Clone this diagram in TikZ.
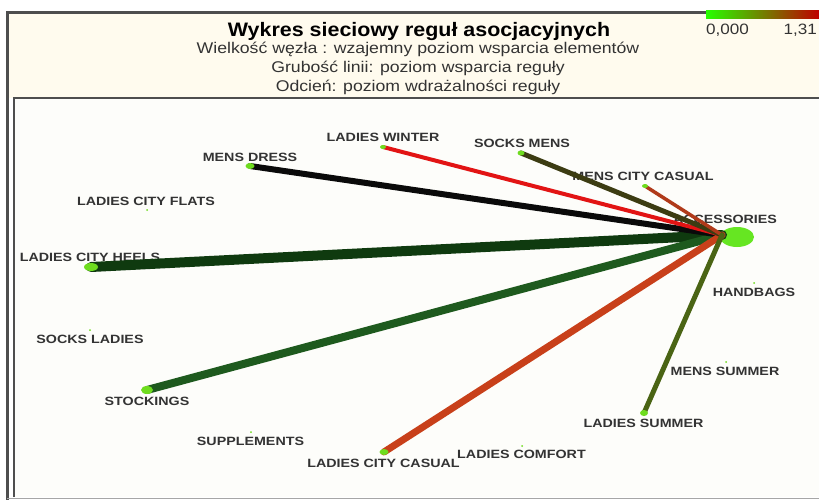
\documentclass[tikz,border=0pt]{standalone}
\usepackage{fontspec}
\setmainfont{Liberation Sans}
\newfontfamily\lblfont[FakeStretch=1.19]{Liberation Sans}
\newfontfamily\subfont[FakeStretch=1.14]{Liberation Sans}
\newfontfamily\titlefont[FakeStretch=1.1]{Liberation Sans}
\definecolor{cream}{HTML}{FFFBEE}
\definecolor{plotbg}{HTML}{FDFDFA}
\definecolor{framegray}{HTML}{4E4E4E}
\definecolor{dotgreen}{HTML}{6EDC1E}
\definecolor{hubgreen}{HTML}{66E622}
\definecolor{eheels}{HTML}{0F3A0F}
\definecolor{estock}{HTML}{1E5A1E}
\definecolor{edress}{HTML}{0A0A0A}
\definecolor{ewinter}{HTML}{E21414}
\definecolor{esocks}{HTML}{3C3C12}
\definecolor{emcc}{HTML}{B03A1A}
\definecolor{elcc}{HTML}{C8401A}
\definecolor{esummer}{HTML}{4A6414}
\definecolor{lbltext}{HTML}{333333}
\begin{document}
\begin{tikzpicture}[x=1pt,y=-1pt,
  lbl/.style={font=\lblfont\fontsize{12}{12}\selectfont\bfseries, text=lbltext, inner sep=0pt},
  subt/.style={font=\subfont\fontsize{15.5}{15.5}\selectfont, text=lbltext, anchor=base, inner sep=0pt},
  legt/.style={font=\subfont\fontsize{15}{15}\selectfont, text=lbltext, inner sep=0pt},
  edge/.style={line cap=round},
  dot/.style={fill=dotgreen, draw=none}]
\useasboundingbox (0,0) rectangle (819,500);
% backgrounds and frames
\fill[white] (0,0) rectangle (819,500);
\fill[cream] (7,13) rectangle (819,98);
\fill[plotbg] (14,98) rectangle (819,497);
\draw[framegray, line width=3pt] (7.5,500) -- (7.5,12.5) -- (819,12.5);
\draw[framegray, line width=2pt] (14,497) -- (14,98) -- (819,98);
\draw[gray!70, line width=1pt] (7,498.5) -- (819,498.5);
% legend
\shade[left color=green!80!lime, middle color=olive!90!green, right color=red!75!black] (706,11) rectangle (819,19);
\node[legt, anchor=base west] (leg0) at (706,35) {0,000};
\node[legt, anchor=base east] (leg1) at (817,35) {1,31};
% title
\node[font=\titlefont\fontsize{19.5}{19.5}\selectfont\bfseries, text=black, anchor=base, inner sep=0pt] (title) at (419,36.5) {Wykres sieciowy reguł asocjacyjnych};
\node[subt] (sub1) at (418,53.5) {Wielkość węzła : wzajemny poziom wsparcia elementów};
\node[subt] (sub2) at (418,72.5) {Grubość linii: poziom wsparcia reguły};
\node[subt] (sub3) at (418,91.5) {Odcień: poziom wdrażalności reguły};
% labels
\node[lbl] (tACC) at (725,219.5) {ACCESSORIES};
\node[lbl] (tMD) at (250,157.5) {MENS DRESS};
\node[lbl] (tLCF) at (146,201.5) {LADIES CITY FLATS};
\node[lbl] (tLW) at (383,137.5) {LADIES WINTER};
\node[lbl] (tSM) at (522,143) {SOCKS MENS};
\node[lbl] (tMCC) at (643,176.5) {MENS CITY CASUAL};
\node[lbl] (tLCH) at (90,257.5) {LADIES CITY HEELS};
\node[lbl] (tSL) at (90,339) {SOCKS LADIES};
\node[lbl] (tST) at (147,401) {STOCKINGS};
\node[lbl] (tSUP) at (250.5,441.5) {SUPPLEMENTS};
\node[lbl] (tLCC) at (383.5,463) {LADIES CITY CASUAL};
\node[lbl] (tLCO) at (521.5,454) {LADIES COMFORT};
\node[lbl] (tLS) at (643.5,423.5) {LADIES SUMMER};
\node[lbl] (tMS) at (725,371) {MENS SUMMER};
\node[lbl] (tHB) at (754,292) {HANDBAGS};
% node dots (positions)
\fill[hubgreen] (737,237) ellipse [x radius=17, y radius=10];
\coordinate (hub) at (722,235);
\coordinate (pMD) at (250,166);
\coordinate (pLW) at (383,147);
\coordinate (pSM) at (521,153);
\coordinate (pMCC) at (645,186);
\coordinate (pLCH) at (91,267);
\coordinate (pST) at (147,390);
\coordinate (pLCC) at (384,452);
\coordinate (pLS) at (644,413);
% edges
\draw[edge, eheels, line width=10pt] (pLCH) -- (hub);
\draw[edge, estock, line width=8pt] (pST) -- (hub);
\draw[edge, edress, line width=6pt] (pMD) -- (hub);
\draw[edge, elcc, line width=7pt] (pLCC) -- (hub);
\draw[edge, ewinter, line width=4pt] (pLW) -- (hub);
\draw[edge, esocks, line width=5pt] (pSM) -- (hub);
\draw[edge, emcc, line width=3.5pt] (pMCC) -- (hub);
\draw[edge, esummer, line width=5pt] (pLS) -- (hub);
% end dots
\fill[dot] (pLCH) ellipse [x radius=7, y radius=4];
\fill[dot] (pST) ellipse [x radius=6, y radius=4];
\fill[dot] (pMD) ellipse [x radius=4.5, y radius=3];
\fill[dot] (pLW) ellipse [x radius=3, y radius=2];
\fill[dot] (pSM) ellipse [x radius=3.5, y radius=2.5];
\fill[dot] (pMCC) ellipse [x radius=3, y radius=2];
\fill[dot] (pLCC) ellipse [x radius=4.5, y radius=3];
\fill[dot] (pLS) ellipse [x radius=4, y radius=3];
\fill[dot] (147,210) circle (1);
\fill[dot] (90,330) circle (1);
\fill[dot] (251,432) circle (1);
\fill[dot] (522,446) circle (1);
\fill[dot] (726,362) circle (1);
\fill[dot] (754,283) circle (1);
\end{tikzpicture}
\end{document}
